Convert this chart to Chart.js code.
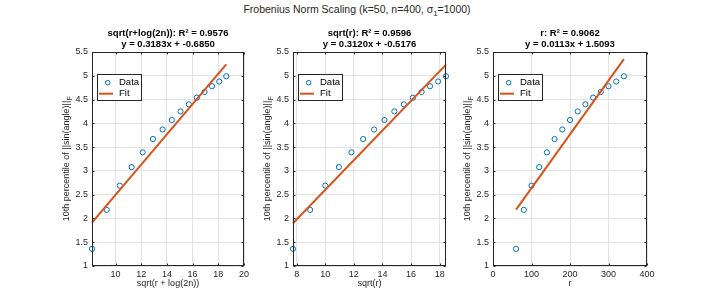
<!DOCTYPE html>
<html>
<head>
<meta charset="utf-8">
<script src="https://cdn.jsdelivr.net/npm/chart.js@4.4.1/dist/chart.umd.min.js"></script>
<style>
    html, body { margin: 0; padding: 0; background: #fff; }
    #wrap { position: relative; width: 714px; height: 296px; }
    #wrap canvas { position: absolute; left: 0; top: 0; }
    #sup {
        position: absolute; left: 0; top: 3px; width: 714px; text-align: center;
        font: 10.5px "Liberation Sans", Arial, sans-serif; color: #262626;
    }
    #sup sub { font-size: 8px; vertical-align: -3px; line-height: 0; }
</style>
</head>
<body>
<div id="wrap">
    <div id="sup">Frobenius Norm Scaling (k=50, n=400, σ<sub>1</sub>=1000)</div>
    <canvas id="c1" width="714" height="296"></canvas>
    <canvas id="c2" width="714" height="296"></canvas>
    <canvas id="c3" width="714" height="296"></canvas>
</div>
<script>
// data
const rankVals = [60, 80, 100, 120, 140, 160, 180, 200, 220, 240, 260, 280, 300, 320, 340];
const sqrtRLogVals = [8.166, 9.311, 10.329, 11.255, 12.111, 12.911, 13.663, 14.377, 15.056, 15.706, 16.330, 16.932, 17.512, 18.075, 18.619];
const sqrtRVals = [7.746, 8.944, 10.000, 10.954, 11.832, 12.649, 13.416, 14.142, 14.832, 15.492, 16.125, 16.733, 17.321, 17.889, 18.439];
const pct10 = [1.36, 2.18, 2.69, 3.08, 3.39, 3.67, 3.87, 4.07, 4.25, 4.40, 4.54, 4.66, 4.78, 4.88, 4.99];

// fit line end points
const fitLogX = [8.166, 18.619];
const fitLogY = [1.914, 5.241];
const fitRX = [7.746, 18.439];
const fitRY = [1.899, 5.235];
const fitRankX = [60, 340];
const fitRankY = [2.187, 5.351];

// ticks
const yTicks = [1, 1.5, 2, 2.5, 3, 3.5, 4, 4.5, 5, 5.5];
const xTicksLog = [10, 12, 14, 16, 18, 20];
const xTicksR = [8, 10, 12, 14, 16, 18];
const xTicksRank = [0, 100, 200, 300, 400];

const BLUE = '#0072BD';
const ORANGE = '#D95319';
const AXIS = '#262626';
const GRID = '#e3e3e3';
const FONT = '"Liberation Sans", Arial, sans-serif';

// box, inward ticks, titles, y label and legend like matlab
const matlabAxes = {
    id: 'matlabAxes',
    afterDraw(chart, args, opts) {
        const ctx = chart.ctx;
        const a = chart.chartArea;
        const x = chart.scales.x, y = chart.scales.y;
        const L = Math.round(a.left) + 0.5, R = Math.round(a.right) - 0.5;
        const T = Math.round(a.top) + 0.5, B = Math.round(a.bottom) - 0.5;
        ctx.save();
        ctx.strokeStyle = AXIS;
        ctx.lineWidth = 1;
        ctx.beginPath();
        x.ticks.forEach(t => {
            const px = Math.round(x.getPixelForValue(t.value)) + 0.5;
            ctx.moveTo(px, B); ctx.lineTo(px, B - 2);
            ctx.moveTo(px, T); ctx.lineTo(px, T + 2);
        });
        y.ticks.forEach(t => {
            const py = Math.round(y.getPixelForValue(t.value)) + 0.5;
            ctx.moveTo(L, py); ctx.lineTo(L + 2, py);
            ctx.moveTo(R, py); ctx.lineTo(R - 2, py);
        });
        ctx.stroke();
        ctx.strokeRect(L, T, R - L, B - T);

        // title
        const cx = (a.left + a.right) / 2;
        ctx.fillStyle = '#000';
        ctx.textAlign = 'center';
        ctx.textBaseline = 'middle';
        ctx.font = 'bold 9.5px ' + FONT;
        ctx.fillText(opts.title[0], cx, a.top - 19);
        ctx.fillText(opts.title[1], cx, a.top - 8);

        // y label with subscript F
        ctx.fillStyle = AXIS;
        ctx.save();
        ctx.translate(a.left - 25, (a.top + a.bottom) / 2);
        ctx.rotate(-Math.PI / 2);
        ctx.font = '9px ' + FONT;
        const main = '10th percentile of ||sin(angle)||';
        const w1 = ctx.measureText(main).width;
        ctx.font = '6.5px ' + FONT;
        const w2 = ctx.measureText('F').width;
        const sx = -(w1 + w2) / 2;
        ctx.textAlign = 'left';
        ctx.font = '9px ' + FONT;
        ctx.fillText(main, sx, 0);
        ctx.font = '6.5px ' + FONT;
        ctx.fillText('F', sx + w1 + 0.5, 3);
        ctx.restore();

        // legend
        const lx = Math.round(a.left) + 5.5, ly = Math.round(a.top) + 22.5;
        ctx.fillStyle = '#fff';
        ctx.fillRect(lx, ly, 44, 26);
        ctx.strokeStyle = AXIS;
        ctx.strokeRect(lx, ly, 44, 26);
        ctx.strokeStyle = BLUE;
        ctx.beginPath();
        ctx.arc(a.left + 15.7, a.top + 30.7, 2.3, 0, Math.PI * 2);
        ctx.stroke();
        ctx.strokeStyle = ORANGE;
        ctx.lineWidth = 2;
        ctx.beginPath();
        ctx.moveTo(a.left + 7, a.top + 41.7);
        ctx.lineTo(a.left + 21, a.top + 41.7);
        ctx.stroke();
        ctx.fillStyle = '#000';
        ctx.textAlign = 'left';
        ctx.font = '9.5px ' + FONT;
        ctx.fillText('Data', a.left + 27, a.top + 30.7);
        ctx.fillText('Fit', a.left + 27, a.top + 41.7);
        ctx.restore();
    }
};

function makePanel(canvasId, cfg) {
    const pts = cfg.xs.map((v, i) => ({ x: v, y: pct10[i] }));
    const fit = cfg.fitX.map((v, i) => ({ x: v, y: cfg.fitY[i] }));
    const tickFont = { family: FONT, size: 9 };
    return new Chart(document.getElementById(canvasId), {
        type: 'scatter',
        data: {
            datasets: [
                {
                    label: 'Data', data: pts, order: 1,
                    borderColor: BLUE, backgroundColor: 'rgba(0,0,0,0)',
                    pointRadius: 2.6, pointBorderWidth: 1, clip: false
                },
                {
                    label: 'Fit', data: fit, order: 0, showLine: true,
                    borderColor: ORANGE, borderWidth: 2, pointRadius: 0, clip: false
                }
            ]
        },
        options: {
            responsive: false,
            animation: false,
            events: [],
            layout: { padding: { left: cfg.left - 30, right: 714 - cfg.right, top: 52, bottom: 6 } },
            plugins: {
                legend: { display: false },
                tooltip: { enabled: false },
                matlabAxes: { title: cfg.title }
            },
            scales: {
                x: {
                    type: 'linear', min: cfg.xMin, max: cfg.xMax,
                    afterBuildTicks: s => { s.ticks = cfg.xTicks.map(v => ({ value: v })); },
                    afterFit: s => { s.height = 24; },
                    grid: { color: GRID, drawTicks: false },
                    border: { display: false },
                    ticks: { padding: 3, font: tickFont, color: AXIS, maxRotation: 0, callback: v => String(v) },
                    title: { display: true, text: cfg.xLabel, font: tickFont, color: AXIS, padding: { top: 0, bottom: 1 } }
                },
                y: {
                    type: 'linear', min: 1, max: 5.5,
                    afterBuildTicks: s => { s.ticks = yTicks.map(v => ({ value: v })); },
                    afterFit: s => { s.width = 30; },
                    grid: { color: GRID, drawTicks: false },
                    border: { display: false },
                    ticks: { padding: 4, font: tickFont, color: AXIS, callback: v => String(v) }
                }
            }
        },
        plugins: [matlabAxes]
    });
}

makePanel('c1', {
    xs: sqrtRLogVals, fitX: fitLogX, fitY: fitLogY,
    xMin: 8.166, xMax: 20, xTicks: xTicksLog,
    left: 92, right: 244,
    xLabel: 'sqrt(r + log(2n))',
    title: ['sqrt(r+log(2n)): R² = 0.9576', 'y = 0.3183x + -0.6850']
});
makePanel('c2', {
    xs: sqrtRVals, fitX: fitRX, fitY: fitRY,
    xMin: 7.746, xMax: 18.439, xTicks: xTicksR,
    left: 293, right: 446,
    xLabel: 'sqrt(r)',
    title: ['sqrt(r): R² = 0.9596', 'y = 0.3120x + -0.5176']
});
makePanel('c3', {
    xs: rankVals, fitX: fitRankX, fitY: fitRankY,
    xMin: 0, xMax: 400, xTicks: xTicksRank,
    left: 493, right: 647,
    xLabel: 'r',
    title: ['r: R² = 0.9062', 'y = 0.0113x + 1.5093']
});
</script>
</body>
</html>
